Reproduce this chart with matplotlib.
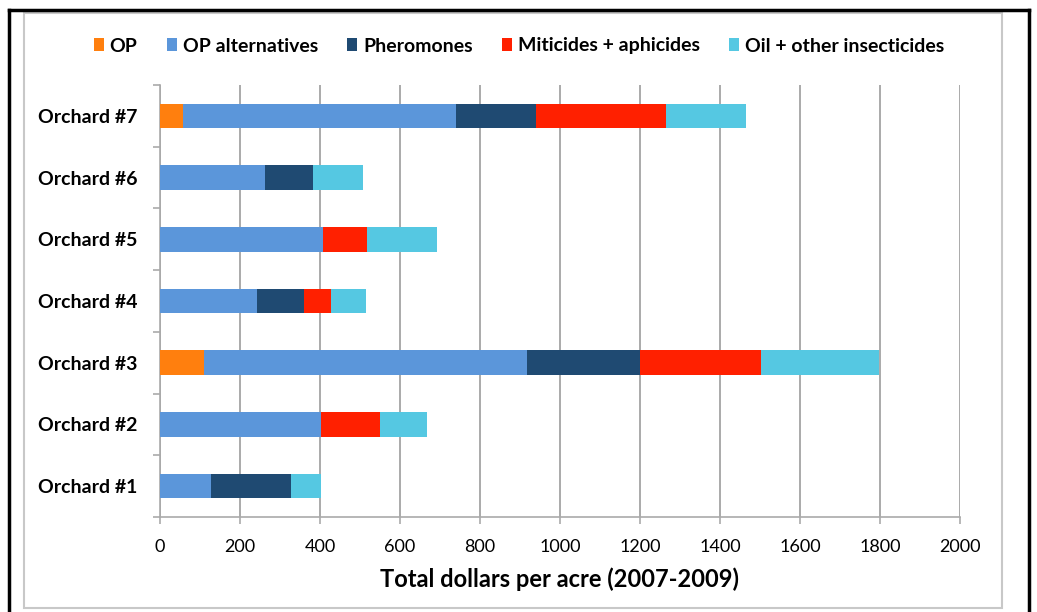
import matplotlib
matplotlib.use("Agg")
import matplotlib.pyplot as plt
from matplotlib.patches import Rectangle
from matplotlib.lines import Line2D
import numpy as np

# Orchards listed bottom to top
orchards = ["Orchard #1", "Orchard #2", "Orchard #3", "Orchard #4",
            "Orchard #5", "Orchard #6", "Orchard #7"]

# Spending per acre by category (dollars, 2007-2009)
op = [0, 0, 110, 0, 0, 0, 57]
op_alternatives = [127, 402, 807, 242, 407, 262, 683]
pheromones = [200, 0, 283, 118, 0, 121, 200]
miticides_aphicides = [0, 148, 302, 68, 111, 0, 325]
oil_other = [75, 118, 295, 87, 175, 125, 200]

series_names = ["OP", "OP alternatives", "Pheromones",
                "Miticides + aphicides", "Oil + other insecticides"]
series_colors = ["#FF7F0E", "#5B96DA", "#1F4A72", "#FF2000", "#55C8E2"]

xticks = [0, 200, 400, 600, 800, 1000, 1200, 1400, 1600, 1800, 2000]

plt.rcParams['font.family'] = ['Lato', 'DejaVu Sans']

W, H = 1037, 612
fig = plt.figure(figsize=(W / 100, H / 100), dpi=100)

# outer black frame (top, left, right) and inner grey chart frame
frame = dict(color="black", lw=2.5, transform=fig.transFigure)
fig.add_artist(Line2D([9 / W, 9 / W], [0, 1 - 10 / H], **frame))
fig.add_artist(Line2D([1029 / W, 1029 / W], [0, 1 - 10 / H], **frame))
fig.add_artist(Line2D([9 / W, 1029 / W], [1 - 10 / H, 1 - 10 / H], **frame))
fig.add_artist(Rectangle((24 / W, 4 / H), (1002 - 24) / W, (599 - 4) / H,
                         transform=fig.transFigure, fill=False,
                         edgecolor="#C8C8C8", lw=1.5))

ax = fig.add_axes([160 / W, (612 - 517) / H, 800 / W, (517 - 85) / H])

y = np.arange(len(orchards))
left = np.zeros(len(orchards))
data = [op, op_alternatives, pheromones, miticides_aphicides, oil_other]
handles = []
for vals, name, col in zip(data, series_names, series_colors):
    vals = np.array(vals, dtype=float)
    b = ax.barh(y, vals, left=left, height=0.4, color=col, label=name, zorder=3)
    handles.append(b)
    left += vals

ax.set_xlim(0, 2000)
ax.set_ylim(-0.5, len(orchards) - 0.5)
ax.set_xticks(xticks)
ax.set_xticklabels([str(t) for t in xticks], fontsize=13)
ax.set_yticks(y)
ax.set_yticklabels(orchards, fontsize=14, fontweight="bold")
ax.tick_params(axis="y", length=0, pad=16.5)
ax.set_yticks(np.arange(-0.5, len(orchards), 1.0), minor=True)
ax.tick_params(axis="y", which="minor", length=5, color="#AAAAAA", width=1.2)
ax.tick_params(axis="x", length=5, color="#AAAAAA", width=1.2, pad=11)

ax.grid(axis="x", color="#AAAAAA", lw=1.4, zorder=0)
for s in ["top", "right"]:
    ax.spines[s].set_visible(False)
for s in ["left", "bottom"]:
    ax.spines[s].set_color("#AAAAAA")
    ax.spines[s].set_linewidth(1.2)

ax.set_xlabel("Total dollars per acre (2007-2009)", fontsize=17,
              fontweight="bold", labelpad=9)

leg = fig.legend(handles=handles, labels=series_names, loc="center",
                 bbox_to_anchor=(519 / W, 1 - 46 / H), ncol=5, frameon=False,
                 handlelength=0.52, handleheight=0.6, handletextpad=0.3,
                 columnspacing=1.5, prop={"weight": "bold", "size": 14})

fig.savefig("out.png", dpi=100)
